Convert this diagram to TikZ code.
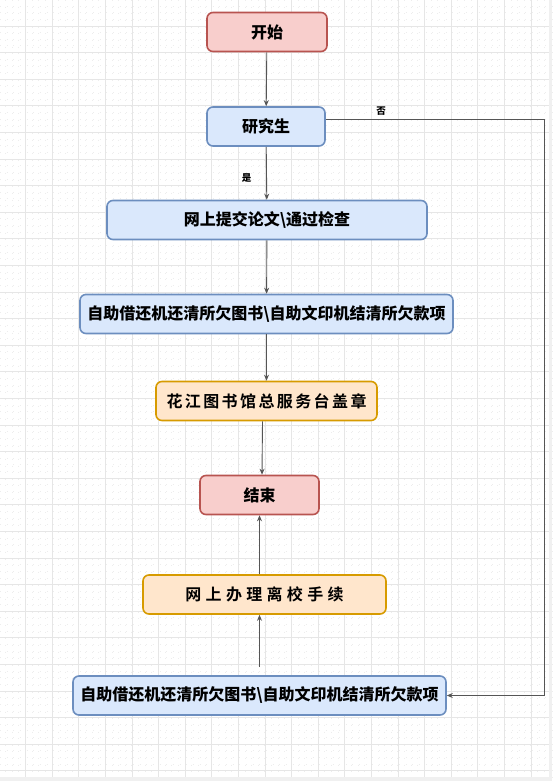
\documentclass[tikz,border=0pt]{standalone}
\usepackage{fontspec}
\usetikzlibrary{arrows.meta}
\newfontfamily\cjk{Noto Sans CJK SC}[BoldFont={Noto Sans CJK SC Black}]
\newfontfamily\cjkw{Noto Sans CJK SC}[BoldFont={* Bold}, LetterSpace=15]
\newfontfamily\cjkww{Noto Sans CJK SC}[BoldFont={* Bold}, LetterSpace=27]
\definecolor{rfill}{HTML}{F8CECC}
\definecolor{rdraw}{HTML}{B85450}
\definecolor{bfill}{HTML}{DAE8FC}
\definecolor{bdraw}{HTML}{6C8EBF}
\definecolor{ofill}{HTML}{FFE6CC}
\definecolor{odraw}{HTML}{D79B00}
\definecolor{arrc}{HTML}{555555}
\definecolor{gmaj}{HTML}{E6E6E6}
\definecolor{gmin}{HTML}{EDEDED}
\tikzset{
  box/.style={rounded corners=6pt, line width=1.6pt, minimum height=39pt, inner sep=0pt, text=black,
    font=\cjk\bfseries\fontsize{16}{18}\selectfont},
  redbox/.style={box, fill=rfill, draw=rdraw},
  bluebox/.style={box, fill=bfill, draw=bdraw},
  orangebox/.style={box, fill=ofill, draw=odraw},
  arr/.style={draw=arrc, line width=0.9pt, -{Stealth[length=6pt,width=5pt]}},
  lbl/.style={font=\cjk\bfseries\fontsize{9.5}{10}\selectfont, inner sep=0pt},
  gridmaj/.style={draw=gmaj, line width=0.8pt},
  gridmin/.style={draw=gmin, line width=0.9pt, dash pattern=on 0.9pt off 5.75pt}
}
\begin{document}
\begin{tikzpicture}[x=1pt, y=-1pt]
\useasboundingbox (0,0) rectangle (552,781);
\fill[white] (0,0) rectangle (552,781);
% minor grid (dots)
\foreach \i in {0,...,84} {
  \draw[gridmin] (25.5+6.65*\i-6.65*4,0) -- (25.5+6.65*\i-6.65*4,781);
}
\foreach \j in {0,...,120} {
  \draw[gridmin] (0,26+6.65*\j-6.65*4) -- (552,26+6.65*\j-6.65*4);
}
% major grid
\foreach \i in {0,...,20} {
  \draw[gridmaj] (25.5+26.6*\i,0) -- (25.5+26.6*\i,781);
}
\foreach \j in {0,...,28} {
  \draw[gridmaj] (0,26+26.6*\j) -- (552,26+26.6*\j);
}
% page edges
\fill[gray!12] (549,0) rectangle (552,781);
\fill[gray!12] (0,777) rectangle (552,781);

% nodes
\node[redbox, minimum width=120pt] (start) at (267,32) {开始};
\node[bluebox, minimum width=118pt] (grad) at (266,126.5) {研究生};
\node[bluebox, minimum width=320pt] (submit) at (267,220) {网上提交论文\textbackslash 通过检查};
\node[bluebox, minimum width=373pt] (self1) at (266.5,314) {自助借还机还清所欠图书\textbackslash 自助文印机结清所欠款项};
\node[orangebox, minimum width=221pt] (stamp) at (266.5,401) {\cjkw 花江图书馆总服务台盖章};
\node[redbox, minimum width=119pt] (end) at (259.5,495) {结束};
\node[orangebox, minimum width=243pt] (online) at (264.5,594.5) {\cjkww 网上办理离校手续};
\node[bluebox, minimum width=373pt] (self2) at (259.5,695.5) {自助借还机还清所欠图书\textbackslash 自助文印机结清所欠款项};

% connectors
\draw[arr] (start) -- (grad);
\draw[arr] (grad) -- node[lbl, pos=0.6, xshift=-20pt] {是} (submit);
\draw[arr] (submit) -- (self1);
\draw[arr] (self1) -- (stamp);
\draw[arr] ([xshift=-4pt]stamp.south) -- ([xshift=2.5pt]end.north);
\draw[arr] (online.north -| end.south) -- (end.south);
\draw[arr] ([yshift=8pt]self2.north) -- (self2.north |- online.south);
\coordinate (rt) at (544,119);
\draw[arr] ([yshift=7.5pt]grad.east) -- (rt) |- (self2.east);
\node[lbl] (no) at (381,111) {否};
\end{tikzpicture}
\end{document}
